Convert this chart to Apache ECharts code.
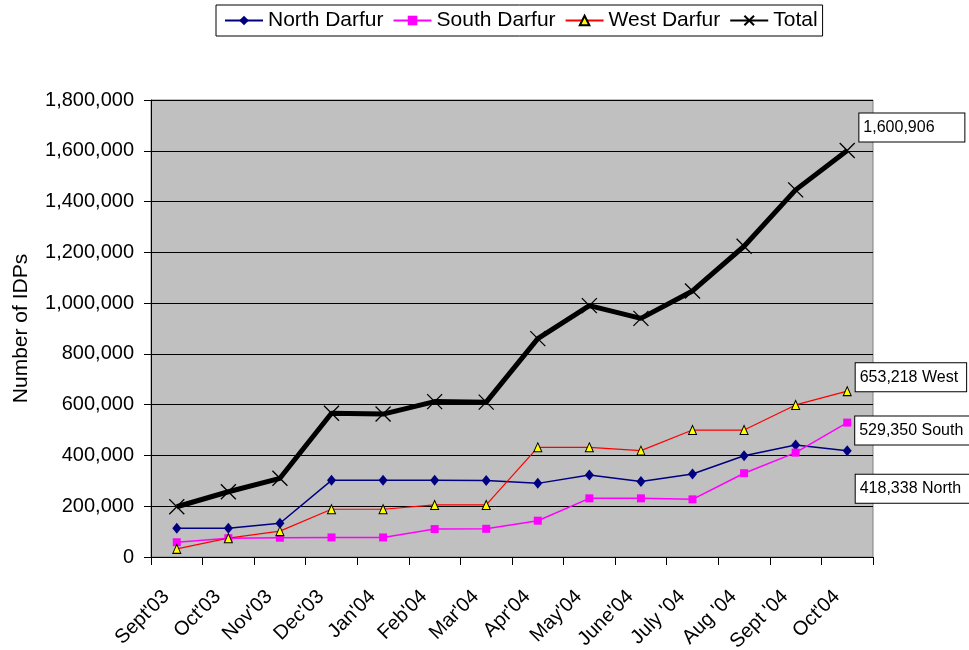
<!DOCTYPE html>
<html>
<head>
<meta charset="utf-8">
<script src="https://cdn.jsdelivr.net/npm/echarts@6/dist/echarts.min.js"></script>
<style>
  html, body { margin: 0; padding: 0; background: #fff; }
  #chart { width: 969px; height: 650px; }
</style>
</head>
<body>
<div id="chart"></div>
<script>
// months on the x axis
var months = ["Sept'03", "Oct'03", "Nov'03", "Dec'03", "Jan'04", "Feb'04", "Mar'04",
  "Apr'04", "May'04", "June'04", "July '04", "Aug '04", "Sept '04", "Oct'04"];

// IDP counts (last point = labelled value)
var northDarfur = [113000, 113000, 133000, 302000, 302000, 302000, 301000, 290000, 323000, 297000, 327000, 399000, 441000, 418338];
var southDarfur = [58000, 74000, 76000, 77000, 77000, 110000, 111000, 143000, 231000, 231000, 227000, 330000, 411000, 529350];
var westDarfur = [32000, 74000, 102000, 188000, 188000, 205000, 205000, 432000, 432000, 419000, 500000, 500000, 599000, 653218];
var total = [198000, 257000, 310000, 566000, 563000, 612000, 610000, 860000, 990000, 940000, 1048000, 1224000, 1446000, 1600906];

var yTicks = { min: 0, max: 1800000, interval: 200000 };

var FONT = 'Liberation Sans';

function fmt(v) {
  return v.toLocaleString('en-US');
}

// put a boxed text next to the last point of a series
function withEndLabel(values, text, dy, boxWidth) {
  var out = values.slice(0, -1);
  var lbl = {
    show: true,
    position: 'right',
    distance: 4,
    offset: [0, dy],
    formatter: text,
    fontFamily: FONT,
    fontSize: 16,
    lineHeight: 18,
    color: '#000',
    backgroundColor: '#fff',
    borderColor: '#000',
    borderWidth: 1,
    padding: [5, 8, 5, 4]
  };
  if (boxWidth) lbl.width = boxWidth;
  out.push({ value: values[values.length - 1], label: lbl });
  return out;
}

var chart = echarts.init(document.getElementById('chart'), null, { renderer: 'canvas' });

var option = {
  backgroundColor: '#fff',
  animation: false,
  textStyle: { fontFamily: FONT },
  legend: {
    left: 216,
    top: 5,
    padding: [5, 5, 5, 8],
    itemWidth: 38,
    itemHeight: 12,
    itemGap: 9,
    backgroundColor: '#fff',
    borderColor: '#000',
    borderWidth: 1,
    borderRadius: 0,
    textStyle: { fontFamily: FONT, fontSize: 21, color: '#000' },
    data: ['North Darfur', 'South Darfur', 'West Darfur', 'Total']
  },
  grid: {
    left: 151,
    right: 96,
    top: 100,
    bottom: 93,
    containLabel: false,
    outerBoundsMode: 'none',
    show: true,
    backgroundColor: '#c0c0c0',
    borderColor: '#808080',
    borderWidth: 1
  },
  xAxis: {
    type: 'category',
    data: months,
    boundaryGap: true,
    axisLine: { lineStyle: { color: '#000', width: 1 } },
    axisTick: { show: true, length: 8, lineStyle: { color: '#000' } },
    axisLabel: {
      interval: 0,
      rotate: 45,
      margin: 26,
      padding: [0, 15, 0, 0],
      fontFamily: FONT,
      fontSize: 20,
      color: '#000'
    },
    splitLine: { show: false }
  },
  yAxis: {
    type: 'value',
    min: yTicks.min,
    max: yTicks.max,
    interval: yTicks.interval,
    name: 'Number of IDPs',
    nameLocation: 'middle',
    nameGap: 119,
    nameTextStyle: { fontFamily: FONT, fontSize: 21, color: '#000' },
    axisLine: { show: true, lineStyle: { color: '#000', width: 1 } },
    axisTick: { show: true, length: 7, lineStyle: { color: '#000' } },
    axisLabel: {
      margin: 17,
      fontFamily: FONT,
      fontSize: 20,
      color: '#000',
      formatter: fmt
    },
    splitLine: { show: true, lineStyle: { color: '#000', width: 1 } }
  },
  series: [
    {
      name: 'North Darfur',
      type: 'line',
      data: withEndLabel(northDarfur, '418,338 North', 38),
      symbol: 'diamond',
      symbolSize: [9, 11],
      lineStyle: { color: '#000080', width: 1.5 },
      itemStyle: { color: '#000080' }
    },
    {
      name: 'South Darfur',
      type: 'line',
      data: withEndLabel(southDarfur, '529,350 South', 8),
      symbol: 'rect',
      symbolSize: 8,
      lineStyle: { color: '#ff00ff', width: 1.5 },
      itemStyle: { color: '#ff00ff' }
    },
    {
      name: 'West Darfur',
      type: 'line',
      data: withEndLabel(westDarfur, '653,218 West', -14),
      symbol: 'triangle',
      symbolSize: [8, 9],
      lineStyle: { color: '#ff0000', width: 1.2 },
      itemStyle: { color: '#ffff00', borderColor: '#000', borderWidth: 1 }
    },
    {
      name: 'Total',
      type: 'line',
      data: withEndLabel(total, '1,600,906', -23, 93),
      symbol: 'path://M0,0L10,10M10,0L0,10',
      symbolSize: 15,
      lineStyle: { color: '#000', width: 5 },
      itemStyle: { color: '#000', borderColor: '#000', borderWidth: 1.3 }
    }
  ]
};

chart.setOption(option);
</script>
</body>
</html>
